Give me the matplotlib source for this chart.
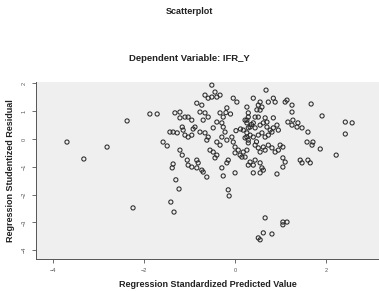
import matplotlib
matplotlib.use("Agg")

import numpy as np
import matplotlib.pyplot as plt

plt.rcParams["font.family"] = ["Liberation Sans", "DejaVu Sans"]

# Regression standardized predicted value (x) and studentized residual (y)
predicted = [
    -3.69, -3.32, -2.81, -2.37, -2.24, -1.87, -1.71, -1.58, -1.49, -1.41,
    -1.34, -1.38, -1.36, -1.30, -1.23, -1.21, -1.16, -1.43, -1.36, -1.27,
    -1.32, -1.21, -1.21, -1.10, -1.03, -0.95, -1.16, -1.14, -1.10, -1.03,
    -0.95, -1.05, -1.03, -0.95, -0.84, -0.81, -0.84, -0.73, -0.84, -0.73,
    -0.77, -0.66, -0.59, -0.51, -0.40, -0.33, -0.51, -0.44, -0.66, -0.59,
    -0.70, -0.77, -0.66, -0.59, -0.62, -0.88, -0.55, -0.48, -0.40, -0.44,
    -0.29, -0.26, -0.22, -0.29, -0.18, -0.18, -0.04, 0.04, -0.04, 0.00,
    0.07, 0.00, 0.11, 0.18, 0.22, -0.07, -0.15, -0.18, -0.29, -0.26,
    0.00, -0.15, -0.13, 0.26, 0.29, 0.26, 0.29, 0.26, 0.29, 0.26,
    0.29, -0.33, -0.26, -0.40, -0.40, -0.33, -0.62, -0.70,
    0.68, 0.40, 0.55, 0.59, 0.55, 0.51, 0.73, 0.84, 0.88, 1.10,
    1.25, 1.25, 1.14, 1.67, 1.91, 0.29, 0.22, 0.44, 0.51, 0.66,
    0.70, 0.84, 0.55, 0.62, 0.70, 0.77, 0.84, 0.92, 0.95, 0.26,
    0.33, 0.40, 0.44, 0.18, 0.26, 0.33, 0.22, 0.29, 0.40, 0.51,
    0.59, 0.66, 0.73, 0.81, 1.16, 1.27, 1.38, 1.25, 1.36, 1.47,
    1.60, 1.58, 1.71, 1.69, 1.87, 2.22, 2.42, 2.57, 2.42, 0.44,
    0.51, 0.55, 0.62, 0.66, 0.73, 0.81, 0.88, 0.99, 1.05, 0.95,
    1.05, 1.10, 1.05, 1.43, 1.47, 1.60, 1.65, 0.33, 0.40, 0.44,
    0.55, 0.59, 0.55, 0.62, 0.40, 0.92, 0.66, 1.05, 1.14, 1.05,
    0.51, 0.55, 0.62, 0.81,
    -0.92, -0.48, -0.10, 0.12, 0.36, 0.47, 0.15, 0.02, -0.20, 0.48,
]
residual = [
    -0.11, -0.72, -0.29, 0.65, -2.48, 0.90, 0.90, -0.11, -0.25, -2.27,
    -2.63, -1.04, -0.90, -1.47, -1.80, -0.40, -0.58, 0.25, 0.25, 0.22,
    0.94, 0.97, 0.76, 0.79, 0.79, 0.68, 0.43, 0.32, 0.14, 0.07,
    0.14, -0.76, -0.94, -1.01, -0.76, -0.86, -1.04, -1.12, 1.29, 1.22,
    0.97, 1.58, 1.47, 1.51, 1.51, 1.58, 1.94, 1.69, 0.94, 0.79,
    0.68, 0.25, 0.22, 0.07, -0.04, 0.43, -0.40, -0.47, -0.58, -0.68,
    0.58, 0.43, 0.25, 0.07, -0.04, 1.12, 1.47, 1.33, -0.11, -0.29,
    -0.40, -0.50, -0.58, -0.47, -0.65, 0.07, -0.76, -0.86, -1.04, -1.33,
    -1.22, -1.83, -2.05, 1.15, 0.94, 0.68, 0.40, 0.07, -0.14, -0.40,
    -0.94, 0.94, 0.79, 0.61, -0.11, -0.22, -1.37, -1.19,
    1.76, 1.47, 1.33, 1.15, 1.04, 1.22, 1.33, 1.47, 1.33, 1.33,
    1.22, 0.97, 1.40, 1.26, 0.83, 0.79, 0.68, 0.79, 0.79, 0.76,
    0.61, 0.76, 0.50, 0.58, 0.43, 0.32, 0.40, 0.50, 0.32, 0.58,
    0.43, 0.58, 0.40, 0.32, 0.22, 0.14, 0.04, -0.04, 0.07, 0.14,
    0.22, 0.07, 0.14, 0.25, 0.61, 0.68, 0.58, 0.50, 0.43, 0.40,
    0.25, -0.11, -0.11, -0.22, -0.36, -0.58, 0.61, 0.58, 0.18, -0.22,
    -0.32, -0.47, -0.29, -0.40, -0.22, -0.32, -0.47, -0.22, -0.29, -0.40,
    -0.68, -0.83, -1.01, -0.76, -0.86, -0.76, -0.86, -0.83, -0.94, -0.76,
    -0.86, -1.04, -1.22, -1.12, -1.22, -1.26, -2.84, -2.99, -2.99, -3.09,
    -3.56, -3.63, -3.38, -3.42,
    0.36, 0.40, 0.90, 0.36, 0.52, -0.10, -0.65, 0.30, 0.95, 1.05,
]

x_ticks = [-4, -2, 0, 2]
y_ticks = [2, 1, 0, -1, -2, -3, -4]

fig = plt.figure(figsize=(3.79, 2.91), dpi=100)
ax = fig.add_axes([0.095, 0.11, 0.905, 0.608])
ax.set_facecolor("#efefef")

ax.scatter(predicted, residual, s=9, facecolors="none", edgecolors="#2a2a2a",
           linewidths=0.75)

ax.set_xlim(-4.37, 3.16)
ax.set_ylim(-4.32, 2.05)
ax.set_xticks(x_ticks)
ax.set_yticks(y_ticks)
ax.tick_params(labelsize=4, colors="#555555", length=3, width=0.6)
for lab in ax.get_yticklabels():
    lab.set_rotation(90)
    lab.set_va("center")

for side in ["top", "right"]:
    ax.spines[side].set_visible(False)
for side in ["left", "bottom"]:
    ax.spines[side].set_color("#555555")
    ax.spines[side].set_linewidth(0.7)

ax.set_xlabel("Regression Standardized Predicted Value", fontsize=6.5,
              fontweight="bold", labelpad=5, color="#222222")
ax.set_ylabel("Regression Studentized Residual", fontsize=6.5,
              fontweight="bold", labelpad=5, color="#222222")

fig.text(0.5, 0.962, "Scatterplot", ha="center", va="center", fontsize=6.5,
         fontweight="bold", color="#222222")
fig.text(0.5, 0.8, "Dependent Variable: IFR_Y", ha="center", va="center",
         fontsize=6.8, fontweight="bold", color="#222222")

fig.savefig("out.png", dpi=100)
plt.close("all")
